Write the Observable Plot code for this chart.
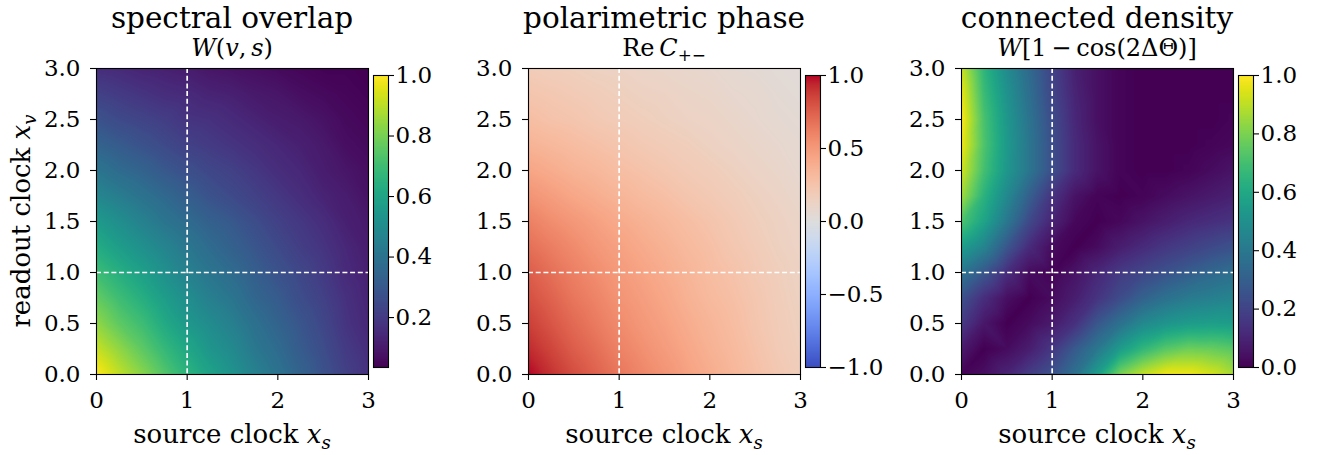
<!DOCTYPE html>
<html>
<head>
<meta charset="utf-8">
<script src="https://cdn.jsdelivr.net/npm/d3@7"></script>
<script src="https://cdn.jsdelivr.net/npm/@observablehq/plot@0.6"></script>
<style>
  body { margin: 0; background: #fff; }
  #fig { position: relative; width: 1340px; height: 455px; overflow: hidden; font-family: "DejaVu Serif"; color: #000; }
  #fig svg { position: absolute; background: transparent; max-width: none; }
</style>
</head>
<body>
<div id="fig"></div>
<script>
// ---------------- data ----------------
const gridX = [0, 0.25, 0.5, 0.75, 1, 1.25, 1.5, 1.75, 2, 2.25, 2.5, 2.75, 3];
const gridY = [0, 0.25, 0.5, 0.75, 1, 1.25, 1.5, 1.75, 2, 2.25, 2.5, 2.75, 3];

// rows from x_v = 0 (bottom) to x_v = 3 (top); columns x_s = 0 .. 3
const overlapW = [
  [1.00,0.91,0.83,0.74,0.66,0.59,0.53,0.46,0.40,0.34,0.28,0.22,0.17],
  [0.92,0.84,0.76,0.68,0.61,0.54,0.49,0.42,0.37,0.31,0.26,0.20,0.16],
  [0.84,0.76,0.70,0.62,0.55,0.50,0.45,0.39,0.34,0.29,0.24,0.18,0.14],
  [0.77,0.70,0.64,0.57,0.51,0.45,0.41,0.35,0.31,0.26,0.22,0.17,0.13],
  [0.70,0.64,0.58,0.52,0.46,0.41,0.37,0.32,0.28,0.24,0.20,0.15,0.12],
  [0.63,0.57,0.52,0.47,0.42,0.37,0.33,0.29,0.25,0.21,0.18,0.14,0.11],
  [0.56,0.51,0.46,0.41,0.37,0.33,0.30,0.26,0.22,0.19,0.16,0.12,0.10],
  [0.48,0.44,0.40,0.36,0.32,0.28,0.25,0.22,0.19,0.16,0.13,0.11,0.08],
  [0.41,0.37,0.34,0.30,0.27,0.24,0.22,0.19,0.16,0.14,0.11,0.09,0.07],
  [0.34,0.31,0.28,0.25,0.22,0.20,0.18,0.16,0.14,0.12,0.10,0.07,0.06],
  [0.28,0.25,0.23,0.21,0.18,0.17,0.15,0.13,0.11,0.10,0.08,0.06,0.05],
  [0.22,0.20,0.18,0.16,0.15,0.13,0.12,0.10,0.09,0.07,0.06,0.05,0.04],
  [0.16,0.15,0.13,0.12,0.11,0.09,0.08,0.07,0.06,0.05,0.04,0.04,0.035]
];

const phaseReC = [
  [1.00,0.91,0.82,0.74,0.66,0.59,0.53,0.46,0.40,0.34,0.28,0.22,0.17],
  [0.93,0.85,0.76,0.69,0.61,0.55,0.49,0.43,0.37,0.32,0.26,0.20,0.16],
  [0.87,0.79,0.71,0.64,0.57,0.51,0.46,0.40,0.35,0.30,0.24,0.19,0.15],
  [0.81,0.74,0.66,0.60,0.53,0.48,0.43,0.37,0.32,0.28,0.23,0.18,0.14],
  [0.76,0.69,0.62,0.56,0.50,0.45,0.40,0.35,0.30,0.26,0.21,0.17,0.13],
  [0.69,0.63,0.57,0.51,0.46,0.41,0.37,0.32,0.28,0.23,0.19,0.15,0.12],
  [0.62,0.56,0.51,0.46,0.41,0.37,0.33,0.29,0.25,0.21,0.17,0.14,0.11],
  [0.53,0.48,0.43,0.39,0.35,0.31,0.28,0.24,0.21,0.18,0.15,0.12,0.09],
  [0.44,0.40,0.36,0.33,0.29,0.26,0.23,0.20,0.18,0.15,0.12,0.10,0.07],
  [0.36,0.33,0.30,0.27,0.24,0.21,0.19,0.17,0.14,0.12,0.10,0.08,0.06],
  [0.29,0.26,0.24,0.21,0.19,0.17,0.15,0.13,0.12,0.10,0.08,0.06,0.05],
  [0.24,0.22,0.20,0.18,0.16,0.14,0.13,0.11,0.10,0.08,0.07,0.05,0.04],
  [0.19,0.17,0.16,0.14,0.13,0.11,0.10,0.09,0.08,0.06,0.05,0.04,0.03]
];

const connectedDensity = [
  [0.01,0.04,0.10,0.18,0.25,0.37,0.56,0.80,0.91,0.98,0.98,0.94,0.87],
  [0.07,0.00,0.03,0.08,0.16,0.28,0.40,0.55,0.66,0.74,0.78,0.77,0.74],
  [0.17,0.06,0.00,0.03,0.07,0.14,0.27,0.37,0.47,0.52,0.55,0.56,0.55],
  [0.25,0.13,0.04,0.00,0.03,0.08,0.15,0.23,0.31,0.37,0.41,0.43,0.45],
  [0.39,0.27,0.13,0.03,0.01,0.05,0.11,0.17,0.21,0.25,0.29,0.33,0.36],
  [0.56,0.45,0.27,0.12,0.03,0.00,0.03,0.08,0.12,0.16,0.19,0.22,0.25],
  [0.72,0.58,0.40,0.22,0.10,0.02,0.00,0.02,0.05,0.08,0.11,0.13,0.15],
  [0.86,0.64,0.47,0.30,0.15,0.05,0.01,0.00,0.01,0.03,0.05,0.07,0.09],
  [0.93,0.70,0.53,0.39,0.24,0.12,0.05,0.01,0.00,0.00,0.01,0.03,0.05],
  [0.98,0.72,0.54,0.39,0.24,0.12,0.05,0.01,0.00,0.00,0.00,0.01,0.02],
  [1.00,0.71,0.53,0.38,0.23,0.11,0.04,0.01,0.00,0.00,0.00,0.00,0.01],
  [0.97,0.68,0.51,0.36,0.21,0.10,0.04,0.01,0.00,0.00,0.00,0.00,0.00],
  [0.92,0.65,0.48,0.34,0.20,0.09,0.04,0.01,0.00,0.00,0.00,0.00,0.00]
];

const xTicks = [0, 1, 2, 3];
const yTicks = [0, 0.5, 1, 1.5, 2, 2.5, 3];
const guideX = [1];
const guideY = [1];
const cbTicks1 = [0.2, 0.4, 0.6, 0.8, 1.0];
const cbTicks2 = [-1, -0.5, 0, 0.5, 1];
const cbTicks3 = [0, 0.2, 0.4, 0.6, 0.8, 1.0];
const cbDomain1 = [0.035, 1];
const cbDomain2 = [-1, 1];
const cbDomain3 = [0, 1];
const titles = ["spectral overlap", "polarimetric phase", "connected density"];

// matplotlib "coolwarm" colour stops
const coolwarmStops = [
  "rgb(59,76,192)","rgb(68,90,204)","rgb(77,104,215)","rgb(87,117,225)","rgb(98,130,234)",
  "rgb(108,142,241)","rgb(119,154,247)","rgb(130,165,251)","rgb(141,176,254)","rgb(152,185,255)",
  "rgb(163,194,255)","rgb(174,201,253)","rgb(184,208,249)","rgb(194,213,244)","rgb(204,217,238)",
  "rgb(213,219,230)","rgb(221,221,221)","rgb(229,216,209)","rgb(236,211,197)","rgb(241,204,184)",
  "rgb(245,196,172)","rgb(247,187,159)","rgb(247,177,147)","rgb(247,166,134)","rgb(244,154,123)",
  "rgb(241,141,111)","rgb(236,127,99)","rgb(229,112,88)","rgb(222,96,77)","rgb(213,80,66)",
  "rgb(203,62,56)","rgb(192,40,47)","rgb(180,4,38)"
];
const coolwarm = d3.piecewise(d3.interpolateRgb, coolwarmStops);

// ---------------- layout ----------------
const FONT = "DejaVu Serif";
const TICK_FS = 23;
const FW = 272, FH = 306, FTOP = 68;
const frameLeft = [96, 528, 961];
const cbLeft = [373, 805, 1238];
const CBW = 15, CBTOP = 74.5, CBH = 292;
const fig = document.getElementById("fig");

function toTable(grid) {
  const out = [];
  grid.forEach((row, j) => row.forEach((v, i) => out.push({x: gridX[i], y: gridY[j], v})));
  return out;
}

function panel(grid, color, left) {
  const mL = 80, mR = 10, mT = 10, mB = 50;
  const svg = Plot.plot({
    width: FW + mL + mR, height: FH + mT + mB,
    marginLeft: mL, marginRight: mR, marginTop: mT, marginBottom: mB,
    style: {fontFamily: FONT, fontSize: TICK_FS + "px", color: "#000", background: "transparent", overflow: "visible"},
    x: {domain: [0, 3]},
    y: {domain: [0, 3]},
    color,
    marks: [
      Plot.raster(toTable(grid), {x: "x", y: "y", fill: "v", interpolate: "barycentric", x1: 0, x2: 3, y1: 0, y2: 3}),
      Plot.ruleX(guideX, {stroke: "white", strokeWidth: 1.7, strokeDasharray: "5,2.7"}),
      Plot.ruleY(guideY, {stroke: "white", strokeWidth: 1.7, strokeDasharray: "5,2.7"}),
      Plot.frame({stroke: "black", strokeWidth: 1.1}),
      Plot.axisX(xTicks, {tickSize: 6, tickPadding: 11, tickFormat: d => String(d), label: null, strokeWidth: 1.1}),
      Plot.axisY(yTicks, {tickSize: 6, tickPadding: 10, tickFormat: d => d.toFixed(1), label: null, strokeWidth: 1.1})
    ]
  });
  svg.style.left = (left - mL) + "px";
  svg.style.top = (FTOP - mT) + "px";
  fig.appendChild(svg);
}

function colorbar(color, domain, ticks, fmt, left) {
  const mL = 0, mR = 80, mT = 10, mB = 10;
  const svg = Plot.plot({
    width: CBW + mL + mR, height: CBH + mT + mB,
    marginLeft: mL, marginRight: mR, marginTop: mT, marginBottom: mB,
    style: {fontFamily: FONT, fontSize: TICK_FS + "px", color: "#000", background: "transparent", overflow: "visible"},
    x: {domain: [0, 1], axis: null},
    y: {domain},
    color,
    marks: [
      Plot.raster({x1: 0, x2: 1, y1: domain[0], y2: domain[1], fill: (x, y) => y}),
      Plot.frame({stroke: "black", strokeWidth: 1.1}),
      Plot.axisY(ticks, {anchor: "right", tickSize: 5, tickPadding: 2, tickFormat: fmt, label: null, strokeWidth: 1.1})
    ]
  });
  svg.style.left = (left - mL) + "px";
  svg.style.top = (CBTOP - mT) + "px";
  fig.appendChild(svg);
}

const colorW = {type: "linear", scheme: "viridis", domain: cbDomain1};
const colorC = {type: "linear", domain: cbDomain2, interpolate: coolwarm};
const colorD = {type: "linear", scheme: "viridis", domain: cbDomain3};

panel(overlapW, colorW, frameLeft[0]);
panel(phaseReC, colorC, frameLeft[1]);
panel(connectedDensity, colorD, frameLeft[2]);

const fmt1 = d => d.toFixed(1);
const fmtMinus = d => (d < 0 ? "\u2212" : "") + Math.abs(d).toFixed(1);
colorbar(colorW, cbDomain1, cbTicks1, fmt1, cbLeft[0]);
colorbar(colorC, cbDomain2, cbTicks2, fmtMinus, cbLeft[1]);
colorbar(colorD, cbDomain3, cbTicks3, fmt1, cbLeft[2]);

// ---------------- text overlay ----------------
const ov = d3.select(fig).append("svg")
  .attr("width", 1340).attr("height", 455)
  .style("left", "0px").style("top", "0px")
  .style("pointer-events", "none")
  .attr("font-family", FONT);

function label(x, y, size, parts, rotate) {
  const t = ov.append("text")
    .attr("text-anchor", "middle")
    .attr("font-size", size)
    .attr("transform", `translate(${x},${y})` + (rotate ? " rotate(-90)" : ""));
  for (const p of parts) {
    const ts = t.append("tspan").text(p.t);
    if (p.i) ts.attr("font-style", "italic");
    if (p.sub) ts.attr("font-size", size * 0.7).attr("dy", size * 0.22);
  }
}

const centers = frameLeft.map(l => l + FW / 2);
const subtitles = [
  [{t: "W", i: 1}, {t: "("}, {t: "v", i: 1}, {t: ",\u2009"}, {t: "s", i: 1}, {t: ")"}],
  [{t: "Re\u2009"}, {t: "C", i: 1}, {t: "+\u2212", sub: 1}],
  [{t: "W", i: 1}, {t: "[1\u2009\u2212\u2009cos(2\u0394\u0398)]"}]
];
titles.forEach((s, k) => {
  label(centers[k], 27.5, 29.5, [{t: s}]);
  label(centers[k], 56, 24, subtitles[k]);
  label(centers[k], 443, 26, [{t: "source clock "}, {t: "x", i: 1}, {t: "s", i: 1, sub: 1}]);
});
label(30, FTOP + FH / 2, 26, [{t: "readout clock "}, {t: "x", i: 1}, {t: "v", i: 1, sub: 1}], true);
</script>
</body>
</html>
